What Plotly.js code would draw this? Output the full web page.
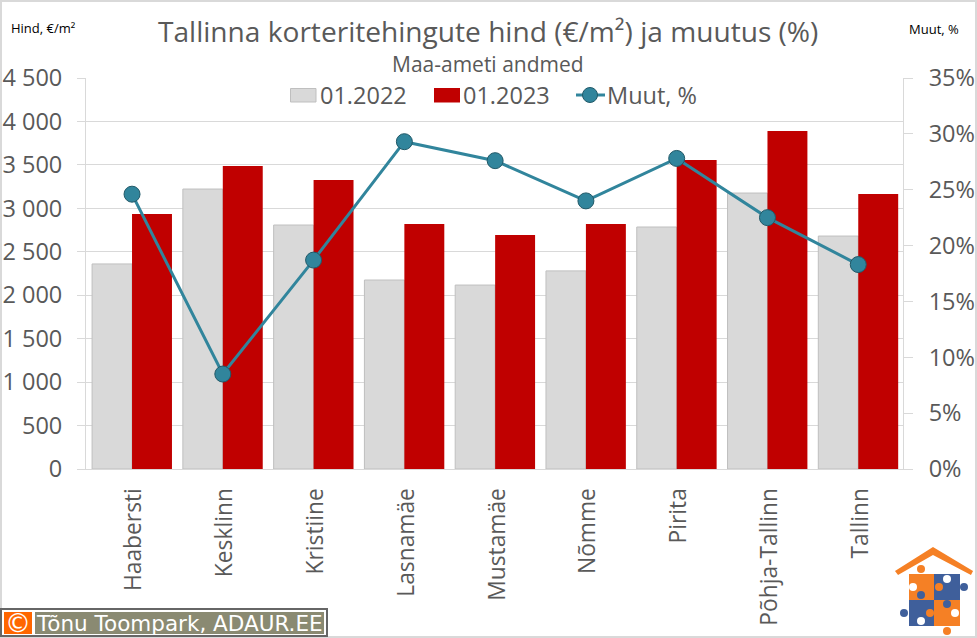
<!DOCTYPE html>
<html><head><meta charset="utf-8">
<script src="https://cdn.plot.ly/plotly-3.0.1.min.js"></script>
<style>html,body{margin:0;padding:0;background:#fff}#c{width:977px;height:638px}</style></head>
<body><div id="c"></div>
<script>
const categories=["Haabersti","Kesklinn","Kristiine","Lasnamäe","Mustamäe","Nõmme","Pirita","Põhja-Tallinn","Tallinn"];
const price2022=[2360,3222,2808,2175,2117,2280,2785,3176,2681];
const price2023=[2934,3487,3326,2820,2693,2820,3556,3890,3165];
const change=[24.6,8.5,18.7,29.3,27.6,24.0,27.8,22.5,18.3];
const priceTicks=[0,500,1000,1500,2000,2500,3000,3500,4000,4500];
const priceLabels=["0","500","1 000","1 500","2 000","2 500","3 000","3 500","4 000","4 500"];
const pctTicks=[0,5,10,15,20,25,30,35];
const pctLabels=pctTicks.map(v=>v+"%");
const W=977,H=638,L=86,R=903,T=78,B=469;
const font="'Open Sans','Noto Sans',sans-serif";
const px=x=>(x-L)/(R-L), py=y=>(B-y)/(B-T);
function pth(pts){return "M"+pts.map(p=>px(p[0]).toFixed(4)+","+py(p[1]).toFixed(4)).join("L")+"Z";}
function rect(x0,y0,x1,y1,fill,line,lw){return {type:"rect",xref:"paper",yref:"paper",x0:px(x0),x1:px(x1),y0:py(y0),y1:py(y1),fillcolor:fill,line:{color:line||fill,width:lw||0},layer:"above"};}
function circ(cx,cy,r,fill){return {type:"circle",xref:"paper",yref:"paper",x0:px(cx-r),x1:px(cx+r),y0:py(cy-r),y1:py(cy+r),fillcolor:fill,line:{width:0},layer:"above"};}
const orange="#f58025",blue="#3f5f9b",teal="#31859c";
const shapes=[
 {type:"rect",xref:"paper",yref:"paper",x0:px(1),x1:px(976),y0:py(1),y1:py(637),line:{color:"#d9d9d9",width:2},fillcolor:"rgba(0,0,0,0)",layer:"below"},
 rect(155,50,823,108,"#ffffff"),
 rect(290.5,88.5,316,102,"#d9d9d9","#bfbfbf",1),
 rect(434,88,460,102.5,"#c00000"),
 {type:"line",xref:"paper",yref:"paper",x0:px(576),x1:px(605),y0:py(95),y1:py(95),line:{color:teal,width:3},layer:"above"},
 {type:"circle",xref:"paper",yref:"paper",x0:px(582.5),x1:px(597.5),y0:py(87.5),y1:py(102.5),fillcolor:teal,line:{color:"#215968",width:1},layer:"above"},
 rect(0,608,328,637,"#666666"),
 rect(2,610,326,635,"#ffffff"),
 rect(4,612,32,634,"#ff6600"),
 rect(35,612,324,634,"#8a8a72"),
 {type:"path",xref:"paper",yref:"paper",path:pth([[895,571],[933,547],[973,571],[971,575],[933,555],[898,575]]),fillcolor:orange,line:{width:0},layer:"above"},
 rect(909,574,934,600,orange),
 rect(934,574,960,600,blue),
 rect(909,600,934,626,blue),
 rect(934,600,960,626,orange),
 circ(921,569,4,orange),circ(947,579,4,"#ffffff"),circ(913,587,4,"#ffffff"),circ(939,587,4,orange),
 circ(964,587,4,blue),circ(921,595,4,blue),circ(947,604,4,blue),circ(904,613,4,blue),
 circ(930,613,4,orange),circ(955,613,4,"#ffffff"),circ(921,621,4,"#ffffff"),circ(947,631,4,orange)
];
const annotations=[
 {text:"Tallinna korteritehingute hind (€/m²) ja muutus (%)",x:487.5,y:31,size:28.1,color:"#595959"},
 {text:"Maa-ameti andmed",x:488,y:64,size:21,color:"#595959"},
 {text:"01.2022",x:363,y:95,size:23.5,color:"#595959"},
 {text:"01.2023",x:506.5,y:95,size:23.5,color:"#595959"},
 {text:"Muut, %",x:652,y:95,size:23.5,color:"#595959"},
 {text:"Hind, €/m²",x:43,y:28,size:13,color:"#000000"},
 {text:"Muut, %",x:934,y:29,size:13,color:"#000000"},
 {text:"©",x:18,y:623,size:26,color:"#ffffff",f:"'DejaVu Sans',sans-serif"},
 {text:"Tõnu Toompark, ADAUR.EE",x:179,y:623,size:21.5,color:"#ffffff",f:"'DejaVu Sans',sans-serif"}
].map(a=>({text:a.text,xref:"paper",yref:"paper",x:px(a.x),y:py(a.y),xanchor:"center",yanchor:"middle",showarrow:false,font:{family:a.f||font,size:a.size,color:a.color}}));
const data=[
 {type:"bar",name:"01.2022",x:categories,y:price2022,marker:{color:"#d9d9d9",line:{color:"#bfbfbf",width:1}},xaxis:"x",yaxis:"y"},
 {type:"bar",name:"01.2023",x:categories,y:price2023,marker:{color:"#c00000",line:{width:0}},xaxis:"x",yaxis:"y"},
 {type:"scatter",mode:"lines+markers",name:"Muut, %",x:categories,y:change,line:{color:teal,width:3},marker:{color:teal,size:16,line:{color:"#215968",width:1}},xaxis:"x",yaxis:"y2"}
];
const layout={
 width:W,height:H,paper_bgcolor:"#fff",plot_bgcolor:"#fff",
 margin:{l:L,r:W-R,t:T,b:H-B,pad:0},autosize:false,showlegend:false,
 font:{family:font,color:"#595959"},
 barmode:"group",bargap:0.12,bargroupgap:0,
 xaxis:{domain:[0,1],type:"category",range:[-0.507,8.493],tickangle:-90,tickfont:{size:22.8,color:"#595959"},ticks:"",showgrid:false,showline:true,linecolor:"#d9d9d9",linewidth:1,automargin:false,ticklabelstandoff:9,ticklabelshift:2},
 yaxis:{range:[0,4500],tickmode:"array",tickvals:priceTicks,ticktext:priceLabels,tickfont:{size:23.5,color:"#595959"},gridcolor:"#d9d9d9",gridwidth:1,showline:true,linecolor:"#d9d9d9",ticks:"outside",ticklen:8,tickcolor:"#d9d9d9",zeroline:false,automargin:false,ticklabelstandoff:10},
 yaxis2:{overlaying:"y",side:"right",range:[0,35],tickmode:"array",tickvals:pctTicks,ticktext:pctLabels,tickfont:{size:23.5,color:"#595959"},showgrid:false,showline:true,linecolor:"#d9d9d9",ticks:"outside",ticklen:9,tickcolor:"#d9d9d9",zeroline:false,automargin:false,ticklabelstandoff:11},
 shapes:shapes,annotations:annotations
};
Plotly.newPlot("c",data,layout,{displayModeBar:false,staticPlot:true});
</script></body></html>
